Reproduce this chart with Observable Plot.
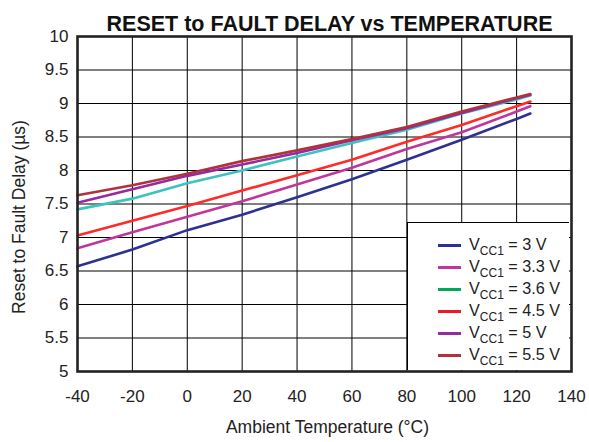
<!DOCTYPE html>
<html><head><meta charset="utf-8">
<script src="https://cdn.jsdelivr.net/npm/d3@7"></script>
<script src="https://cdn.jsdelivr.net/npm/@observablehq/plot@0.6"></script>
<style>
body{margin:0;background:#fff;font-family:"Liberation Sans",Arial,sans-serif}
#wrap{position:relative;width:589px;height:442px}
#legend{position:absolute;left:407px;top:222px;width:162px;height:148px;background:#fff;border-left:1px solid #000;border-top:1px solid #000;box-sizing:border-box;font-size:16.2px;color:#222}
.row{position:absolute;left:0;height:22px;width:160px}
.sw{position:absolute;left:30px;width:23px;height:3px;top:10px}
.tx{position:absolute;left:61px;top:0;white-space:nowrap;line-height:20px}
.tx sub{font-size:12px;vertical-align:-5px;line-height:0}
</style></head><body><div id="wrap"><div id="legend"></div></div>
<script>
const title = "RESET to FAULT DELAY vs TEMPERATURE";
const xLabel = "Ambient Temperature (°C)";
const yLabel = "Reset to Fault Delay (µs)";
const xTicks = [-40,-20,0,20,40,60,80,100,120,140];
const yTicks = [5,5.5,6,6.5,7,7.5,8,8.5,9,9.5,10];

const temps = [-40,-20,0,20,40,60,80,100,120,125];
const v30 = [6.57,6.82,7.11,7.34,7.60,7.87,8.16,8.46,8.77,8.85];
const v33 = [6.84,7.08,7.31,7.54,7.79,8.04,8.32,8.57,8.88,8.96];
const v36 = [7.42,7.58,7.81,8.00,8.21,8.41,8.61,8.85,9.06,9.12];
const v45 = [7.03,7.25,7.47,7.70,7.93,8.16,8.43,8.68,8.96,9.03];
const v50 = [7.52,7.72,7.92,8.09,8.26,8.45,8.63,8.86,9.08,9.13];
const v55 = [7.63,7.78,7.95,8.14,8.30,8.47,8.65,8.88,9.09,9.14];

const seriesNames = ["3 V","3.3 V","3.6 V","4.5 V","5 V","5.5 V"];
const seriesValues = [v30,v33,v36,v45,v50,v55];
const lineColors = ["#2e3192","#c0369a","#3cc3c0","#ff2a2a","#952b9e","#b0323c"];
const swatchColors = ["#2e3192","#c0369a","#00a859","#ed1c24","#952b9e","#b0323c"];

const data = [];
seriesNames.forEach((s,i)=>temps.forEach((t,j)=>data.push({series:s,t,v:seriesValues[i][j]})));

const fmt = d => String(d);

const plot = Plot.plot({
  width:589, height:442,
  marginLeft:77, marginRight:18, marginTop:36, marginBottom:71,
  style:{fontFamily:"Liberation Sans, Arial, sans-serif", background:"#fff"},
  x:{domain:[-40,140]},
  y:{domain:[5,10]},
  color:{domain:seriesNames, range:lineColors},
  marks:[
    Plot.gridX(xTicks.slice(1,-1),{stroke:"#000",strokeOpacity:1,strokeWidth:1}),
    Plot.gridY(yTicks.slice(1,-1),{stroke:"#000",strokeOpacity:1,strokeWidth:1}),
    Plot.line(data,{x:"t",y:"v",z:"series",stroke:"series",strokeWidth:2.6}),
    Plot.frame({stroke:"#222",strokeWidth:2.6}),
    Plot.axisX(xTicks,{tickSize:0,tickPadding:18,fontSize:17,label:null,fill:"#222",tickFormat:fmt}),
    Plot.axisY(yTicks,{tickSize:0,tickPadding:9,fontSize:17,label:null,fill:"#222",tickFormat:fmt}),
    Plot.text([title],{frameAnchor:"top",dy:-21,dx:5,fontSize:21.5,fontWeight:"bold",fill:"#111"}),
    Plot.text([xLabel],{frameAnchor:"bottom",dy:61,dx:3,fontSize:17.5,fill:"#222"}),
    Plot.text([yLabel],{frameAnchor:"left",textAnchor:"middle",rotate:-90,dx:-58,dy:13,fontSize:17.5,fill:"#222"})
  ]
});
document.getElementById("wrap").prepend(plot);

const lg = document.getElementById("legend");
seriesNames.forEach((s,i)=>{
  const r = document.createElement("div");
  r.className="row"; r.style.top=(11+22*i)+"px";
  r.innerHTML = `<div class="sw" style="background:${swatchColors[i]}"></div><div class="tx">V<sub>CC1</sub> = ${s}</div>`;
  lg.appendChild(r);
});
</script></body></html>
